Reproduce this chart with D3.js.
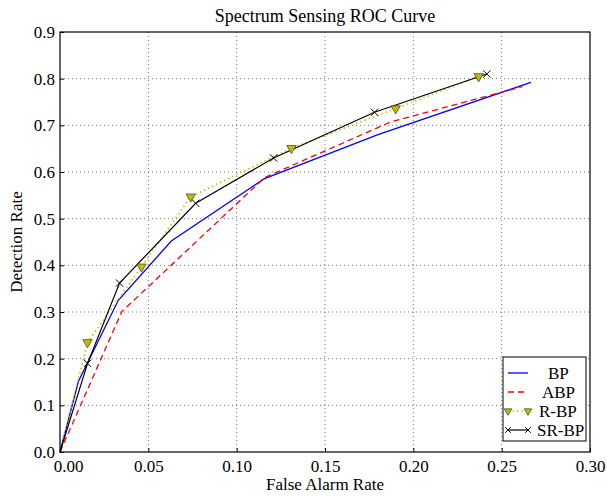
<!DOCTYPE html>
<html>
<head>
<meta charset="utf-8">
<script src="https://cdn.jsdelivr.net/npm/d3@7"></script>
<style>
body { margin: 0; background: #fff; }
svg text { font-family: "Times New Roman", "Liberation Serif", "Nimbus Roman", "DejaVu Serif", serif; fill: #000; }
</style>
</head>
<body>
<div class="graph"></div>
<script>
// values
const bpX = [0, 0.0104, 0.033, 0.063, 0.1158, 0.18, 0.2665];
const bpY = [0, 0.151, 0.325, 0.452, 0.586, 0.68, 0.792];
const abpX = [0, 0.035, 0.1158, 0.187, 0.2617];
const abpY = [0, 0.301, 0.588, 0.707, 0.783];
const rbpX = [0, 0.0156, 0.0461, 0.074, 0.131, 0.190, 0.237];
const rbpY = [0, 0.235, 0.397, 0.547, 0.651, 0.736, 0.805];
const srbpX = [0, 0.0156, 0.0337, 0.0768, 0.1209, 0.178, 0.2416];
const srbpY = [0, 0.19, 0.362, 0.533, 0.63, 0.728, 0.81];
const xTicks = [0, 0.05, 0.1, 0.15, 0.2, 0.25, 0.3];
const yTicks = [0, 0.1, 0.2, 0.3, 0.4, 0.5, 0.6, 0.7, 0.8, 0.9];
const seriesNames = ["BP", "ABP", "R-BP", "SR-BP"];

const w = 607, h = 496;
const pLeft = 60, pRight = 590, pTop = 32, pBottom = 452;

const xScale = d3.scaleLinear().domain([0, 0.3]).range([pLeft, pRight]);
const yScale = d3.scaleLinear().domain([0, 0.9]).range([pBottom, pTop]);

const svg = d3.select(".graph").append("svg")
    .attr("width", w).attr("height", h);

// grid
svg.append("g").selectAll("line").data(xTicks.slice(1, -1)).enter().append("line")
    .attr("x1", d => xScale(d)).attr("x2", d => xScale(d))
    .attr("y1", pTop).attr("y2", pBottom)
    .attr("stroke", "#555").attr("stroke-width", 0.8).attr("stroke-dasharray", "1,3");
svg.append("g").selectAll("line").data(yTicks.slice(1, -1)).enter().append("line")
    .attr("y1", d => yScale(d)).attr("y2", d => yScale(d))
    .attr("x1", pLeft).attr("x2", pRight)
    .attr("stroke", "#555").attr("stroke-width", 0.8).attr("stroke-dasharray", "1,3");

// axes
const xAxis = d3.axisBottom(xScale).tickValues(xTicks).tickFormat(d3.format(".2f")).tickSizeInner(-4).tickSizeOuter(0).tickPadding(8);
const yAxis = d3.axisLeft(yScale).tickValues(yTicks).tickFormat(d3.format(".1f")).tickSizeInner(-4).tickSizeOuter(0).tickPadding(5);
const gx = svg.append("g").attr("transform", "translate(0," + pBottom + ")").call(xAxis);
const gy = svg.append("g").attr("transform", "translate(" + pLeft + ",0)").call(yAxis);
[gx, gy].forEach(g => {
    g.select(".domain").remove();
    g.attr("font-family", null).attr("font-size", null);
    g.selectAll("text").style("font-size", "17px");
    g.selectAll("line").attr("stroke", "#000");
});
// first x label sits a little right of its tick in the reference
gx.selectAll(".tick text").filter(d => d === 0).attr("x", 8);

// series
const line = d3.line().x(d => xScale(d[0])).y(d => yScale(d[1]));
const zip = (xs, ys) => xs.map((x, i) => [x, ys[i]]);

const bp = zip(bpX, bpY), abp = zip(abpX, abpY), rbp = zip(rbpX, rbpY), srbp = zip(srbpX, srbpY);

svg.append("path").datum(bp).attr("d", line).attr("fill", "none")
    .attr("stroke", "#0000ff").attr("stroke-width", 1.3);
svg.append("path").datum(abp).attr("d", line).attr("fill", "none")
    .attr("stroke", "#ff0000").attr("stroke-width", 1.3).attr("stroke-dasharray", "6,4");
svg.append("path").datum(rbp).attr("d", line).attr("fill", "none")
    .attr("stroke", "#bfc400").attr("stroke-width", 1.6).attr("stroke-dasharray", "1.5,3");
svg.append("path").datum(srbp).attr("d", line).attr("fill", "none")
    .attr("stroke", "#000").attr("stroke-width", 1.2);

const tri = d3.symbol().type(d3.symbolTriangle).size(38);
svg.append("g").selectAll("path").data(rbp.slice(1)).enter().append("path")
    .attr("d", tri)
    .attr("transform", d => "translate(" + xScale(d[0]) + "," + yScale(d[1]) + ") rotate(180)")
    .attr("fill", "#bfbf00").attr("stroke", "#333").attr("stroke-width", 0.7);

const cross = d3.symbol().type(d3.symbolX).size(36);
svg.append("g").selectAll("path").data(srbp.slice(1)).enter().append("path")
    .attr("d", cross)
    .attr("transform", d => "translate(" + xScale(d[0]) + "," + yScale(d[1]) + ")")
    .attr("fill", "none").attr("stroke", "#000").attr("stroke-width", 1);

// frame
svg.append("rect").attr("x", pLeft).attr("y", pTop)
    .attr("width", pRight - pLeft).attr("height", pBottom - pTop)
    .attr("fill", "none").attr("stroke", "#000").attr("stroke-width", 1.2);

// legend
const lg = svg.append("g");
lg.append("rect").attr("x", 503).attr("y", 357).attr("width", 83).attr("height", 84)
    .attr("fill", "#fff").attr("stroke", "#000").attr("stroke-width", 1);
const rowY = i => 373 + i * 19;
lg.append("line").attr("x1", 508).attr("x2", 528).attr("y1", rowY(0)).attr("y2", rowY(0))
    .attr("stroke", "#0000ff").attr("stroke-width", 1.3);
lg.append("line").attr("x1", 508).attr("x2", 528).attr("y1", rowY(1)).attr("y2", rowY(1))
    .attr("stroke", "#ff0000").attr("stroke-width", 1.3).attr("stroke-dasharray", "6,4");
lg.append("line").attr("x1", 508).attr("x2", 528).attr("y1", rowY(2)).attr("y2", rowY(2))
    .attr("stroke", "#bfc400").attr("stroke-width", 1.6).attr("stroke-dasharray", "1.5,3");
lg.append("line").attr("x1", 508).attr("x2", 528).attr("y1", rowY(3)).attr("y2", rowY(3))
    .attr("stroke", "#000").attr("stroke-width", 1.2);
[508, 528].forEach(x => {
    lg.append("path").attr("d", d3.symbol().type(d3.symbolTriangle).size(24))
        .attr("transform", "translate(" + x + "," + rowY(2) + ") rotate(180)")
        .attr("fill", "#bfbf00").attr("stroke", "#333").attr("stroke-width", 0.7);
    lg.append("path").attr("d", d3.symbol().type(d3.symbolX).size(22))
        .attr("transform", "translate(" + x + "," + rowY(3) + ")")
        .attr("fill", "none").attr("stroke", "#000").attr("stroke-width", 1);
});
const legendX = [548, 542, 539, 537];
seriesNames.forEach((n, i) => {
    lg.append("text").attr("x", legendX[i]).attr("y", rowY(i)).attr("dy", "0.35em")
        .style("font-size", "17px").text(n);
});

// titles
svg.append("text").attr("x", (pLeft + pRight) / 2).attr("y", 22)
    .attr("text-anchor", "middle").style("font-size", "18px").text("Spectrum Sensing ROC Curve");
svg.append("text").attr("x", (pLeft + pRight) / 2).attr("y", 490)
    .attr("text-anchor", "middle").style("font-size", "17px").text("False Alarm Rate");
svg.append("text").attr("transform", "translate(22," + (pTop + pBottom) / 2 + ") rotate(-90)")
    .attr("text-anchor", "middle").style("font-size", "17px").text("Detection Rate");
</script>
</body>
</html>
